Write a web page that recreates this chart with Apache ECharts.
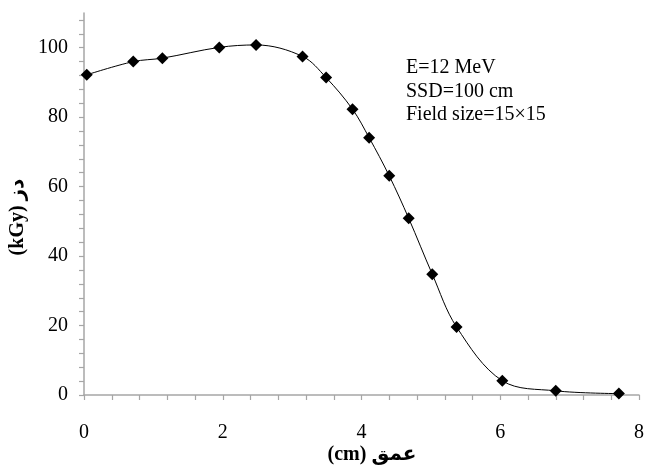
<!DOCTYPE html>
<html>
<head>
<meta charset="utf-8">
<script src="https://cdn.jsdelivr.net/npm/echarts@6/dist/echarts.min.js"></script>
<style>
  html, body { margin: 0; padding: 0; background: #fff; }
  #chart { width: 653px; height: 466px; }
</style>
</head>
<body>
<div id="chart"></div>
<script>
// Depth-dose measurements: depth (cm) and dose (kGy)
const depth = [0.04, 0.71, 1.13, 1.95, 2.48, 3.15, 3.49, 3.87, 4.11, 4.40, 4.68, 5.02, 5.37, 6.03, 6.80, 7.71];
const dose  = [92.2, 96.0, 97.0, 100.1, 100.8, 97.5, 91.4, 82.3, 74.1, 63.1, 50.9, 34.8, 19.6, 4.1, 1.2, 0.4];

const xTickLabels = [0, 2, 4, 6, 8];
const yTickLabels = [0, 20, 40, 60, 80, 100];
const yTickMarks  = [0, 4, 8, 12, 16, 20, 24, 28, 32, 36, 40, 44, 48, 52, 56, 60,
                     64, 68, 72, 76, 80, 84, 88, 92, 96, 100, 104, 108];

const beamInfo = ['E=12 MeV', 'SSD=100 cm', 'Field size=15×15'];
const xTitle = '(cm) عمق';
const yTitle = '(kGy) دز';

const serif = '"Liberation Serif", "Times New Roman", "DejaVu Sans", serif';
const axisGray = '#a6a6a6';

const chart = echarts.init(document.getElementById('chart'), null, { renderer: 'canvas' });

chart.setOption({
  animation: false,
  backgroundColor: '#ffffff',
  grid: { left: 84, right: 14, top: 13, bottom: 71 },
  xAxis: {
    type: 'value',
    min: 0,
    max: 8,
    interval: 0.4,
    axisLine: { show: true, onZero: false, lineStyle: { color: axisGray, width: 1.5 } },
    axisTick: { show: true, inside: false, length: 5, lineStyle: { color: axisGray, width: 1.2 } },
    axisLabel: {
      customValues: xTickLabels,
      margin: 28,
      color: '#000',
      fontFamily: serif,
      fontSize: 20
    },
    splitLine: { show: false }
  },
  yAxis: {
    type: 'value',
    min: 0,
    max: 110,
    interval: 4,
    axisLine: { show: true, lineStyle: { color: axisGray, width: 1.5 } },
    axisTick: {
      show: true, inside: false, length: 5,
      customValues: yTickMarks,
      lineStyle: { color: axisGray, width: 1.2 }
    },
    axisLabel: {
      customValues: yTickLabels,
      margin: 16,
      color: '#000',
      fontFamily: serif,
      fontSize: 20
    },
    splitLine: { show: false }
  },
  series: [{
    type: 'line',
    data: depth.map((d, i) => [d, dose[i]]),
    smooth: 0.35,
    symbol: 'diamond',
    symbolSize: 12,
    itemStyle: { color: '#000' },
    lineStyle: { color: '#000', width: 1 }
  }],
  graphic: [
    {
      type: 'text',
      left: 406,
      top: 56,
      style: {
        text: beamInfo.join('\n'),
        font: '20px ' + serif,
        fill: '#000',
        lineHeight: 23.5
      }
    },
    {
      type: 'text',
      x: 372,
      y: 455,
      style: {
        text: xTitle,
        font: 'bold 20px ' + serif,
        fill: '#000',
        align: 'center',
        verticalAlign: 'middle'
      }
    },
    {
      type: 'text',
      x: 18,
      y: 217,
      rotation: Math.PI / 2,
      style: {
        text: yTitle,
        font: 'bold 20px ' + serif,
        fill: '#000',
        align: 'center',
        verticalAlign: 'middle'
      }
    }
  ]
});
</script>
</body>
</html>
